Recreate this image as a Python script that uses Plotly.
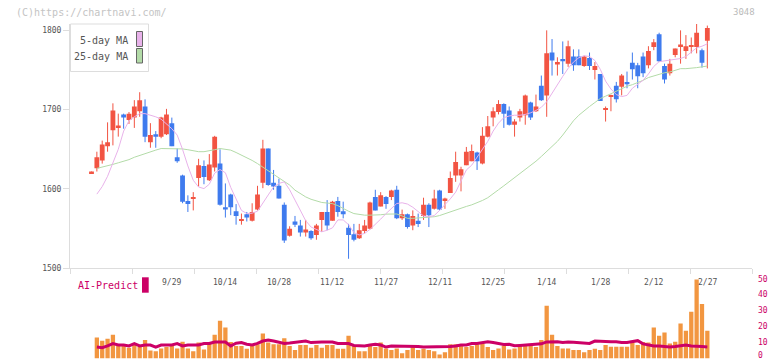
import plotly.graph_objects as go

W, H = 772, 361

# ---------------- data ----------------
opens = [1620,1626,1636,1654,1674,1678,1694,1687,1690,1698,
         1704,1659,1669,1666,1669,1683,1640,1617,1585,1588,
         1614,1629,1611,1627,1632,1577,1593,1572,1560,1568,
         1560,1574,1608,1651,1608,1604,1580,1541,1559,1554,
         1545,1547,1542,1561,1571,1560,1585,1572,1551,1543,
         1538,1547,1550,1590,1578,1590,1590,1599,1563,1568,
         1554,1560,1566,1580,1575,1598,1586,1595,1617,1617,
         1630,1635,1646,1632,1666,1690,1697,1707,1699,1681,
         1690,1693,1709,1698,1730,1718,1772,1757,1763,1758,
         1767,1767,1755,1765,1750,1745,1700,1716,1730,1729,
         1735,1759,1756,1767,1756,1779,1795,1755,1746,1769,
         1779,1774,1779,1779,1775,1787]
closes = [1622,1640,1656,1659,1699,1680,1690,1695,1704,1712,
          1666,1668,1666,1690,1694,1654,1635,1584,1581,1590,
          1630,1615,1631,1666,1580,1574,1577,1566,1562,1564,
          1571,1593,1651,1605,1603,1588,1535,1550,1555,1545,
          1549,1538,1554,1571,1554,1584,1571,1568,1542,1536,
          1548,1554,1583,1573,1592,1581,1598,1563,1568,1552,
          1566,1556,1580,1567,1588,1574,1588,1614,1634,1625,
          1647,1648,1635,1667,1679,1698,1707,1695,1681,1685,
          1698,1718,1690,1704,1712,1771,1762,1760,1761,1780,
          1756,1756,1767,1755,1755,1711,1702,1718,1713,1743,
          1732,1751,1742,1746,1774,1785,1761,1738,1758,1777,
          1782,1780,1781,1797,1759,1803]
highs = [1622,1647,1661,1684,1708,1695,1695,1697,1712,1722,
         1713,1683,1673,1691,1701,1690,1651,1618,1592,1596,
         1638,1636,1644,1667,1650,1607,1594,1581,1569,1571,
         1582,1604,1662,1651,1624,1613,1583,1553,1566,1561,
         1561,1548,1556,1571,1586,1585,1590,1584,1556,1556,
         1556,1561,1584,1599,1596,1591,1599,1604,1574,1569,
         1573,1569,1589,1582,1599,1599,1589,1622,1647,1628,
         1653,1656,1647,1678,1692,1703,1712,1708,1704,1688,
         1701,1719,1710,1719,1743,1800,1789,1766,1786,1787,
         1776,1776,1768,1772,1760,1745,1704,1719,1735,1745,
         1748,1772,1759,1772,1780,1789,1797,1758,1764,1777,
         1800,1794,1791,1808,1777,1806]
lows = [1620,1622,1632,1647,1655,1666,1676,1682,1677,1691,
        1659,1652,1652,1664,1668,1654,1633,1582,1571,1573,
        1603,1606,1610,1622,1579,1564,1567,1555,1555,1559,
        1559,1573,1601,1604,1599,1588,1532,1540,1552,1540,
        1540,1536,1536,1546,1548,1560,1565,1563,1512,1534,
        1537,1544,1549,1573,1578,1575,1586,1562,1561,1550,
        1548,1552,1561,1552,1574,1573,1575,1595,1609,1597,
        1630,1635,1624,1631,1665,1679,1694,1677,1680,1666,
        1685,1681,1687,1697,1711,1691,1743,1743,1745,1754,
        1749,1756,1754,1750,1738,1711,1685,1698,1709,1718,
        1727,1738,1727,1741,1752,1775,1760,1733,1743,1766,
        1758,1764,1771,1771,1753,1752]

ma5 = [None,1593.5,1603,1616,1633,1650,1673,1686,1691,1695,
       1695,1693,1691,1688,1682,1676,1668,1650,1629,1611,
       1602.5,1600.5,1606,1620,1624.5,1620.5,1602,1587,1573,1569,
       1569.5,1572,1583,1592.5,1602.5,1607,1609,1599,1586,1573,
       1560,1552,1549,1546,1548,1551,1561,1561,1555,1545,
       1542,1544,1549,1555,1562,1569,1575.5,1581.7,1582.6,1581,
       1577,1571,1566,1565,1566.5,1573,1579.6,1587.5,1596,1609,
       1624,1630,1640,1650,1660,1673,1683,1690,1692,1693,
       1693,1694,1696,1699,1703,1710,1721,1732,1742,1752,
       1760,1765.5,1768,1767,1762,1751,1736,1726,1719,1716.5,
       1718,1727,1731.5,1737,1745,1754.5,1760.5,1761.5,1762.3,1763,
       1764.5,1767,1773,1778,1780,1783]
ma25 = [None,1626,1627.5,1629.5,1631,1633,1635,1637,1640,1642.5,
        1644.5,1647,1649,1651,1651,1651,1651,1650.5,1649.5,1648,
        1647,1647,1648,1649.5,1651,1650,1649,1646,1643,1640,
        1636,1632,1627.5,1623,1618.5,1614,1609.5,1605,1598.5,1594,
        1590,1587,1584.5,1583,1582.3,1581.5,1579,1575,1572,1569,
        1568,1567,1567,1567,1567.5,1568.3,1568.8,1568.5,1566,1563,
        1563,1563.3,1563.6,1564,1565,1566.5,1569,1571,1573.5,1576,
        1578,1580,1582.5,1585.5,1589,1594.5,1599,1604,1609,1614.5,
        1620,1625,1630,1635,1641,1647,1653,1660,1668,1677,
        1686,1693,1699,1704,1709,1714,1717,1720,1724,1727,
        1729.5,1731.5,1734,1737,1740.5,1742.5,1745,1746.5,1747.5,1749.5,
        1751.7,1751.7,1752,1753,1754,1755]

volume = [None,13.2,11.1,12.4,14.9,7.9,7.9,6.8,9.6,7.2,11.6,
          5.1,4.6,6.3,7.2,7.9,6.3,10.6,6.3,4.6,10.0,
          5.7,9.4,14.9,23.7,19.5,10.4,7.9,7.9,6.2,7.9,
          9.0,15.8,10.0,9.0,9.0,12.8,7.9,5.4,8.5,8.5,
          6.8,8.5,6.8,8.5,8.5,6.2,6.2,14.3,7.9,4.6,
          4.6,7.9,7.2,10.0,6.3,5.4,6.3,3.3,5.4,7.2,
          5.4,6.2,5.4,4.6,2.5,4.0,9.0,9.0,9.0,7.2,
          7.9,9.0,9.4,7.2,5.4,6.3,8.2,5.7,6.3,7.9,
          7.9,7.9,7.2,11.6,33.2,14.9,7.9,6.3,6.3,5.4,
          5.4,4.0,5.4,6.2,5.4,8.5,7.4,7.4,7.4,7.4,
          10.0,8.5,10.4,10.0,19.5,14.3,16.4,9.4,10.6,22.0,
          17.4,29.4,49.7,34.3,17.4]
ai_predict = [None,7.2,6.8,7.9,9.4,8.5,8.5,7.9,9.4,7.9,8.5,
              8.5,7.2,8.5,8.5,8.5,9.4,7.9,8.5,8.5,8.5,
              9.4,9.4,10.4,10.4,10.4,7.9,9.6,10.0,9.0,8.5,
              9.5,11.0,11.6,11.0,10.0,9.4,9.7,10.0,10.4,11.0,
              10.0,10.4,10.4,10.4,10.4,9.4,9.4,9.4,8.2,7.9,
              7.9,8.5,9.0,8.5,7.2,7.9,7.9,7.9,7.6,8.0,
              7.6,7.2,7.2,7.2,7.2,7.2,7.5,7.9,8.5,8.5,
              9.4,9.4,9.8,10.6,10.0,9.4,8.8,9.0,8.0,8.2,
              8.5,8.5,9.0,9.2,10.4,10.6,10.6,10.0,10.4,10.2,
              10.0,10.0,9.5,11.0,10.7,10.5,10.5,10.6,10.0,10.0,
              10.5,11.2,9.2,8.7,7.9,7.9,7.5,7.2,7.5,7.9,
              8.5,7.9,7.9,7.5,7.2]

tick_labels = ["9/29", "10/14", "10/28", "11/12", "11/27", "12/11",
               "12/25", "1/14", "1/28", "2/12", "2/27"]
tick_index = [15, 25, 35, 45, 55, 65, 75, 85, 95, 105, 115]
price_ticks = [1500, 1600, 1700, 1800]
vol_ticks = [0, 10, 20, 30, 40, 50]

# ---------------- styling ----------------
RED = "#f25443"
BLUE = "#3f7bee"
PINK = "#e8b2ea"
GREEN = "#b3dba8"
ORANGE = "#f29640"
MAGENTA = "#cc0066"
AXIS = "#dddddd"
TXT = "#555555"
MONO = "DejaVu Sans Mono"

def px_x(x):
    return x / W

def px_y(y):
    return 1 - y / H

X0, X1 = -4.015, 123.34   # x range in candle slots (axis spans px 70..752)

n = len(closes)
idx = list(range(n))
colors = [RED if c >= o else BLUE for o, c in zip(opens, closes)]

fig = go.Figure()

# wicks
for col in (RED, BLUE):
    wx, wy = [], []
    for i in idx:
        if colors[i] == col:
            wx += [i, i, None]
            wy += [lows[i], highs[i], None]
    fig.add_trace(go.Scatter(x=wx, y=wy, mode="lines",
                             line=dict(color=col, width=1),
                             hoverinfo="skip", showlegend=False))

# bodies
fig.add_trace(go.Bar(x=idx, y=[c - o for o, c in zip(opens, closes)], base=opens,
                     width=0.9, marker=dict(color=colors, line=dict(width=0)),
                     showlegend=False))

# moving averages
fig.add_trace(go.Scatter(x=idx, y=ma25, mode="lines",
                         line=dict(color=GREEN, width=1), showlegend=False))
fig.add_trace(go.Scatter(x=idx, y=ma5, mode="lines",
                         line=dict(color=PINK, width=1), showlegend=False))

# volume + AI predict
fig.add_trace(go.Bar(x=idx, y=volume, width=0.8, xaxis="x2", yaxis="y2",
                     marker=dict(color=ORANGE, line=dict(width=0)), showlegend=False))
fig.add_trace(go.Scatter(x=idx, y=ai_predict, mode="lines", xaxis="x2", yaxis="y2",
                         line=dict(color=MAGENTA, width=3), showlegend=False))

grid_ticks = [X0 + k * (X1 - X0) / 11 for k in range(12)]

fig.update_layout(
    width=W, height=H,
    margin=dict(l=0, r=0, t=0, b=0, autoexpand=False),
    paper_bgcolor="white", plot_bgcolor="white",
    barmode="overlay",
    showlegend=False,
    font=dict(family=MONO, color=TXT),
    xaxis=dict(domain=[px_x(70), px_x(752)], range=[X0, X1],
               anchor="y", showgrid=False, zeroline=False, automargin=False,
               showline=True, linecolor=AXIS, linewidth=1,
               tickvals=grid_ticks, showticklabels=False,
               ticks="outside", ticklen=5, tickcolor=AXIS, tickwidth=1),
    yaxis=dict(domain=[px_y(268.3), px_y(24)], range=[1500, 1808],
               anchor="x", showgrid=False, zeroline=False, automargin=False,
               showline=True, linecolor=AXIS, linewidth=1,
               tickvals=price_ticks, ticks="outside", ticklen=6,
               tickcolor=AXIS, tickfont=dict(family=MONO, size=8, color=TXT)),
    xaxis2=dict(domain=[px_x(70), px_x(752)], range=[X0, X1], anchor="y2",
                matches="x", visible=False, automargin=False),
    yaxis2=dict(domain=[px_y(358.5), px_y(279)], range=[0, 50], anchor="x2",
                side="right", showgrid=False, zeroline=False, showline=False,
                automargin=False, showticklabels=False, ticks=""),
)

ann = []
ann.append(dict(text="(C)https://chartnavi.com/", x=px_x(14), y=px_y(12.3),
                xref="paper", yref="paper", xanchor="left", yanchor="middle",
                showarrow=False, font=dict(family=MONO, size=10, color="#c4c4c4")))
ann.append(dict(text="3048", x=px_x(757), y=px_y(12.3),
                xref="paper", yref="paper", xanchor="right", yanchor="middle",
                showarrow=False, font=dict(family=MONO, size=9, color="#bbbbbb")))
ann.append(dict(text="5-day MA", x=px_x(130), y=px_y(40.5),
                xref="paper", yref="paper", xanchor="right", yanchor="middle",
                showarrow=False, font=dict(family=MONO, size=10, color=TXT)))
ann.append(dict(text="25-day MA", x=px_x(130), y=px_y(56.5),
                xref="paper", yref="paper", xanchor="right", yanchor="middle",
                showarrow=False, font=dict(family=MONO, size=10, color=TXT)))
ann.append(dict(text="AI-Predict", x=px_x(75.5), y=px_y(285.5),
                xref="paper", yref="paper", xanchor="left", yanchor="middle",
                showarrow=False, font=dict(family=MONO, size=10, color=MAGENTA)))
for lab, pos in zip(tick_labels, tick_index):
    ann.append(dict(text=lab, x=pos, y=px_y(282.3), xref="x", yref="paper",
                    xanchor="center", yanchor="middle", showarrow=False,
                    font=dict(family=MONO, size=8, color=TXT)))
# right-hand volume scale labels (lowest one nudged up to stay inside the page)
for v in vol_ticks:
    ann.append(dict(text=str(v), x=px_x(756), y=v, xref="paper", yref="y2",
                    xanchor="left", yanchor="middle", showarrow=False,
                    yshift=3 if v == 0 else 0,
                    font=dict(family=MONO, size=8, color=MAGENTA)))
fig.update_layout(annotations=ann)

shapes = []
# legend box
shapes.append(dict(type="rect", xref="paper", yref="paper",
                   x0=px_x(70.5), x1=px_x(148.5), y0=px_y(71.5), y1=px_y(24),
                   line=dict(color=AXIS, width=1), fillcolor="white", layer="above"))
shapes.append(dict(type="rect", xref="paper", yref="paper",
                   x0=px_x(136.5), x1=px_x(142.5), y0=px_y(46.5), y1=px_y(31.5),
                   line=dict(color="#666666", width=1), fillcolor=PINK, layer="above"))
shapes.append(dict(type="rect", xref="paper", yref="paper",
                   x0=px_x(136.5), x1=px_x(142.5), y0=px_y(63), y1=px_y(48.5),
                   line=dict(color="#666666", width=1), fillcolor=GREEN, layer="above"))
# AI-Predict swatch
shapes.append(dict(type="rect", xref="paper", yref="paper",
                   x0=px_x(142), x1=px_x(148.7), y0=px_y(292.7), y1=px_y(277.3),
                   line=dict(width=0), fillcolor=MAGENTA, layer="above"))
fig.update_layout(shapes=shapes)

# remove the browser's default page margin so the figure sits at (0, 0)
fig.write_html("out.html",
               config={"displayModeBar": False},
               post_script="document.body.style.margin='0';"
                           "document.body.style.overflow='hidden';")
